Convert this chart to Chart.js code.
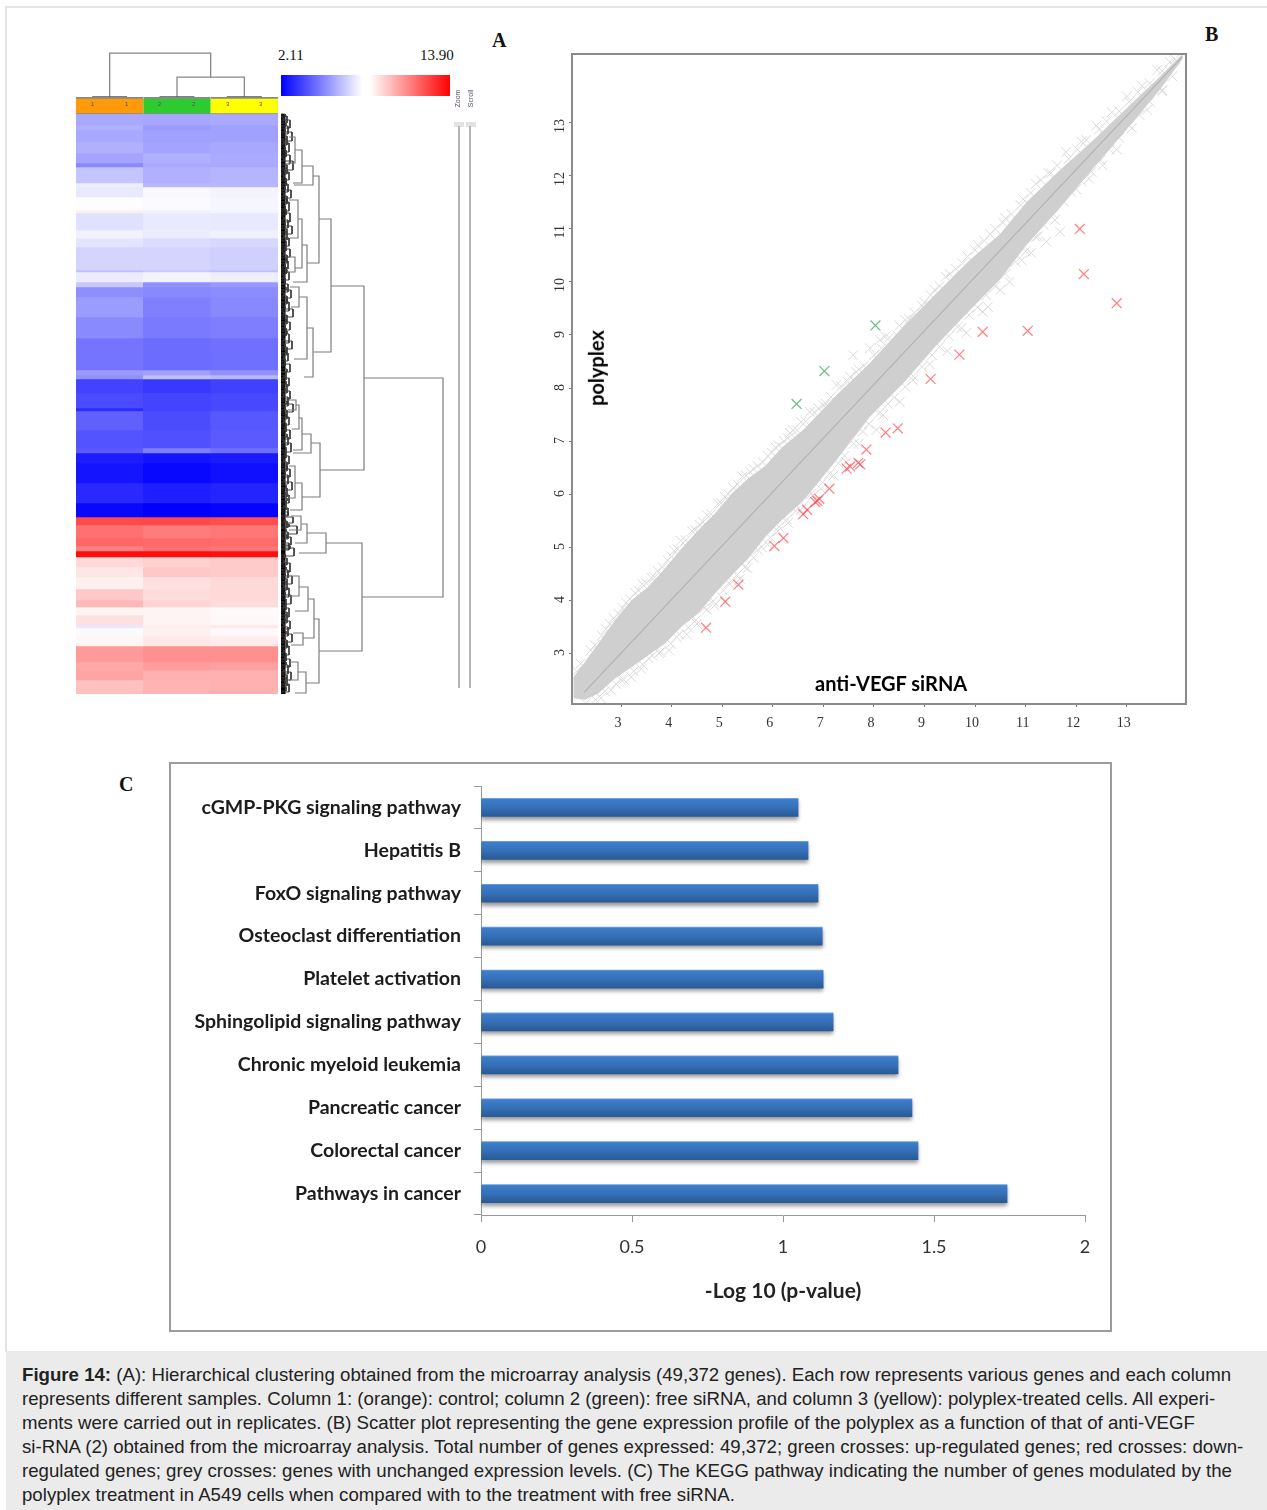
<!DOCTYPE html>
<html>
<head>
<meta charset="utf-8">
<script src="https://cdn.jsdelivr.net/npm/chart.js@4"></script>
<style>
  html, body { margin: 0; padding: 0; background: #fff; }
  body { position: relative; width: 1267px; height: 1510px; overflow: hidden; }
  canvas, .txt, .box { position: absolute; }
  .txt { white-space: nowrap; color: #111; }
  .serif { font-family: "Liberation Serif", serif; }
  .letter { font: bold 20px "Liberation Serif", serif; }
  .lbl { font: bold 20px Lato, sans-serif; color: #000; }
  .tiny { font: 6px "Liberation Sans", sans-serif; color: #5c4a66; }
  #heat { filter: blur(0.7px); }
  #caption { position: absolute; left: 6px; top: 1351px; width: 1261px; height: 159px; background: #ebebeb; }
  #caption div { position: absolute; left: 16px; white-space: nowrap; font: 18.65px "Liberation Sans", Arial, sans-serif; color: #222; }
</style>
</head>
<body>
<div class="box" style="left:5px;top:6px;width:1262px;height:2px;background:#e4e4e4"></div>
<div class="box" style="left:5px;top:6px;width:2px;height:1346px;background:#e4e4e4"></div>

<canvas id="colTree" width="202" height="48" style="left:76px;top:50px"></canvas>
<canvas id="heat" width="202" height="597" style="left:76px;top:97px"></canvas>
<canvas id="rowTree" width="165" height="582" style="left:281px;top:113px"></canvas>
<canvas id="colorBar" width="169" height="21" style="left:281px;top:75px"></canvas>
<canvas id="scatter" width="660" height="700" style="left:540px;top:40px"></canvas>
<div class="box" style="left:169px;top:762px;width:939px;height:566px;border:2px solid #9c9c9c"></div>
<canvas id="bars" width="941" height="568" style="left:170px;top:763px"></canvas>

<span class="txt serif" style="left:278px;top:47px;font-size:15px">2.11</span>
<span class="txt serif" style="left:420px;top:47px;font-size:15px">13.90</span>
<span class="txt letter" style="left:492px;top:29px">A</span>
<span class="txt letter" style="left:1205px;top:23px">B</span>
<span class="txt letter" style="left:119px;top:773px">C</span>
<span class="txt tiny" style="left:91px;top:101px">1</span>
<span class="txt tiny" style="left:125px;top:101px">1</span>
<span class="txt tiny" style="left:158px;top:101px">2</span>
<span class="txt tiny" style="left:192px;top:101px">2</span>
<span class="txt tiny" style="left:226px;top:101px">3</span>
<span class="txt tiny" style="left:259px;top:101px">3</span>
<span class="txt tiny" style="left:449px;top:95px;font-size:7px;transform:rotate(-90deg)">Zoom</span>
<span class="txt tiny" style="left:462px;top:95px;font-size:7px;transform:rotate(-90deg)">Scroll</span>
<div class="box" style="left:454px;top:122px;width:10px;height:5px;background:#e2e2e2"></div>
<div class="box" style="left:466px;top:122px;width:10px;height:5px;background:#e2e2e2"></div>
<div class="box" style="left:458px;top:126px;width:2px;height:562px;background:#b4b4b4"></div>
<div class="box" style="left:469px;top:126px;width:2px;height:562px;background:#b4b4b4"></div>

<span class="txt lbl" style="left:815px;top:671px">anti-VEGF siRNA</span>
<span class="txt lbl" style="left:558px;top:356px;transform:rotate(-90deg)">polyplex</span>

<div id="caption">
  <div style="top:13px"><b>Figure 14:</b> (A): Hierarchical clustering obtained from the microarray analysis (49,372 genes). Each row represents various genes and each column</div>
  <div style="top:37px">represents different samples. Column 1: (orange): control; column 2 (green): free siRNA, and column 3 (yellow): polyplex-treated cells. All experi-</div>
  <div style="top:61px">ments were carried out in replicates. (B) Scatter plot representing the gene expression profile of the polyplex as a function of that of anti-VEGF</div>
  <div style="top:85px">si-RNA (2) obtained from the microarray analysis. Total number of genes expressed: 49,372; green crosses: up-regulated genes; red crosses: down-</div>
  <div style="top:109px">regulated genes; grey crosses: genes with unchanged expression levels. (C) The KEGG pathway indicating the number of genes modulated by the</div>
  <div style="top:133px">polyplex treatment in A549 cells when compared with to the treatment with free siRNA.</div>
</div>

<script>
// ---- A: heat map (rows per band, then expression level of each band per sample)
const sampleLabels = ["1", "2", "3"];
const sampleColors = ["#ff9a0a", "#2ecb30", "#ffff00"];
const bandRows = [11,5,12,11,10,4,16,4,10,13,3,17,8,9,23,2,10,5,10,20,21,32,5,4,14,15,3,19,18,5,10,20,20,14,8,13,8,5,6,10,10,12,11,7,8,10,3,8,10,16,8,10,14];
const sample1 = [5.99,6.18,5.99,6.18,5.90,5.25,6.64,7.6,7.47,7.95,8.35,7.28,7.7,7.38,7.0,6.55,7.56,6.73,5.39,5.72,5.30,4.79,5.67,5.44,3.64,3.82,3.13,4.33,4.05,4.19,2.76,2.57,3.03,2.29,12.19,11.31,11.54,10.94,13.62,8.9,8.58,8.35,9.27,9.64,8.26,8.72,7.47,7.9,8.2,10.34,10.01,10.1,9.46];
const sample2 = [5.94,5.67,5.81,5.90,6.18,5.99,6.18,6.36,7.84,7.89,7.65,7.52,7.56,7.19,7.0,6.73,7.75,5.44,5.25,5.07,4.93,4.61,5.81,6.55,3.40,3.68,3.68,3.87,3.96,5.07,2.57,2.29,2.80,2.11,12.23,11.03,11.49,11.31,13.62,9.09,9.27,8.72,8.81,8.99,8.26,8.26,8.39,8.35,8.53,10.57,10.29,9.83,9.73];
const sample3 = [6.01,5.81,5.81,5.99,6.04,5.99,6.27,6.36,7.75,7.80,7.75,7.47,7.65,7.10,6.92,6.55,7.6,5.62,5.35,5.25,5.02,4.70,5.44,6.36,3.59,3.77,3.82,4.14,4.19,4.70,2.71,2.48,2.94,2.23,12.09,11.12,11.40,11.22,13.53,9.22,9.22,8.9,8.9,8.81,8.12,8.16,8.53,8.16,8.44,10.57,10.2,9.83,9.83];
const colorRange = [2.11, 13.90];
const colorMid = 8;

// sample tree: replicate position pairs, then joins
const colNodeLeft = [0.5, 2.5, 4.5, 3, 1];
const colNodeRight = [1.5, 3.5, 5.5, 5, 4];
const colNodeHeight = [1, 1, 1, 20, 43];
const colNodeLeftArm = [0, 0, 0, 1, 1];
const colNodeRightArm = [0, 0, 0, 1, 20];

// gene tree: main joins
const rowNodeHeight = [162,83,81,50,39,45,38,38,32,32,21,14,26,21,17,14,26,18,30,21,18,15,21,14,26,20,33,27,22,25,18,17];
const rowNodeTop = [264,172,429,105,329,419,505,62,214,52,36,23,131,105,86,143,183,173,320,304,291,286,369,352,410,402,485,473,519,558,462,548];
const rowNodeBottom = [483,356,537,238,383,439,569,149,263,71,69,49,168,154,124,158,245,193,339,336,315,296,396,384,429,416,524,497,531,579,482,566];
const rowNodeArmTop = [83,50,45,38,30,26,33,32,26,21,14,8,21,17,8,7,18,9,21,18,15,8,14,8,20,10,27,18,12,17,10,9];
const rowNodeArmBottom = [81,39,38,32,21,18,25,26,23,13,12,7,12,14,9,6,13,10,12,12,11,7,9,8,14,8,22,14,10,14,8,8];
// gene tree: small joins next to the leaves
const twigTop = [2,6,12,18,25,29,36,41,47,54,58,64,70,76,82,88,95,99,106,112,118,124,130,135,141,147,153,158,164,170,176,182,188,195,201,208,214,220,227,233,239,245,250,258,264,270,277,283,290,296,303,309,316,323,329,336,342,348,355,361,368,374,381,387,394,403,407,412,418,423,429,434,444,449,456,462,468,474,481,488,494,501,507,513,520,526,532,539,545,551,558,564,570,
  0,4,9,15,22,27,33,39,44,51,56,61,67,73,79,85,92,97,103,109,115,121,127,133,138,144,150,156,161,167,173,179,185,192,198,205,211,217,224,230,236,242,248,255,261,267,274,280,287,293,300,306,313,320,326,333,339,345,352,358,365,371,378,384,391,398,405,410,415,421,426,432,440,446,453,459,465,471,478,485,491,498,504,510,517,523,529,536,542,548,555,561,567,573];
const twigBottom = [9,14,20,27,31,38,43,50,56,60,66,72,78,84,90,97,101,108,114,120,126,132,137,143,149,155,160,166,170,178,184,190,197,203,210,216,222,229,235,241,247,252,258,266,272,279,285,292,298,305,311,318,325,331,338,344,350,357,363,370,376,383,389,396,402,409,414,420,425,431,436,442,451,458,464,470,476,483,490,496,503,509,515,522,528,534,541,547,553,560,566,572,578,
  3,7,12,18,25,30,36,42,47,54,59,64,70,76,82,88,95,100,106,112,118,124,130,136,141,147,153,159,164,170,176,182,188,195,201,208,214,220,227,233,239,245,251,258,264,270,277,283,290,296,303,309,316,323,329,336,342,348,355,361,368,374,381,387,394,401,408,413,418,424,429,435,443,449,456,462,468,474,481,488,494,501,507,513,520,526,532,539,545,551,558,564,570,577];
const twigHeight = [6,9,7,11,6,8,5,9,12,6,8,5,7,10,6,8,5,9,7,11,6,8,5,9,6,7,5,8,4,7,10,6,8,12,6,9,5,8,11,6,7,4,9,5,8,6,9,7,12,6,8,5,9,7,10,5,8,6,9,7,11,6,8,5,7,12,6,16,7,10,8,13,6,9,7,11,6,8,10,5,8,6,9,7,11,6,8,5,9,7,10,6,8,
  4,3,5,4,6,3,4,5,3,6,4,3,5,4,3,6,4,5,3,4,6,3,5,4,3,5,4,6,3,4,5,3,6,4,3,5,4,6,3,4,5,3,4,6,3,5,4,3,6,4,5,3,4,6,3,5,4,3,6,4,3,5,4,6,3,7,4,8,5,6,4,9,4,3,5,4,6,3,4,5,3,6,4,3,5,4,6,3,4,5,3,6,4,5];

// ---- B: scatter
const xTicks = [3,4,5,6,7,8,9,10,11,12,13];
const yTicks = [3,4,5,6,7,8,9,10,11,12,13];
const cloudX = [2.06,2.29,2.55,2.88,3.21,3.54,3.87,4.20,4.53,4.86,5.19,5.52,5.85,6.18,6.6,7.26,7.92,8.58,9.24,9.9,10.49,11.02,11.68,12.34,13.0,13.65,14.1];
const cloudUpper = [2.55,2.84,3.18,3.62,4.0,4.25,4.60,4.98,5.32,5.64,6.01,6.3,6.53,6.88,7.21,7.87,8.47,9.16,9.79,10.42,10.9,11.51,12.11,12.68,13.28,13.87,14.3];
const cloudLower = [2.15,2.12,2.24,2.52,2.74,2.96,3.18,3.50,3.75,4.13,4.47,4.79,5.19,5.51,5.87,6.64,7.46,8.09,8.81,9.47,10.04,10.7,11.4,12.15,12.88,13.62,14.2];
const diagonalX = [2.27, 14.1];
const diagonalY = [2.26, 14.25];
const greyX = [2.12,2.4,2.62,2.78,2.95,3.1,3.28,3.42,3.6,3.72,3.92,4.05,4.18,4.4,4.55,4.7,4.92,5.05,5.22,5.4,5.55,5.7,5.9,6.05,6.22,6.34,6.4,6.56,6.73,6.83,7.05,7.26,7.53,7.59,7.7,7.92,8.12,8.22,8.45,8.7,8.95,9.2,9.5,9.75,10.05,10.3,10.6,10.9,11.2,11.5,11.8,12.1,12.4,12.7,13.0,13.3,13.6,13.85,
  2.3,2.6,2.8,3.0,3.2,3.4,3.55,3.75,3.95,4.1,4.3,4.5,4.65,4.85,5.0,5.2,5.35,5.5,5.7,5.9,6.1,6.3,6.55,6.75,6.95,7.2,7.45,7.7,8.05,8.18,8.51,8.77,9.1,9.45,9.73,9.83,10.15,10.25,10.5,10.68,10.92,11.11,11.24,11.41,11.58,11.68,12.0,12.25,12.52,12.8,13.1,13.4,13.7,
  2.2,2.48,2.7,2.85,3.03,3.17,3.35,3.5,3.66,3.82,4.0,4.12,4.28,4.47,4.62,4.78,4.98,5.12,5.3,5.47,5.62,5.8,5.98,6.12,6.3,6.48,6.65,6.9,7.0,7.15,7.35,7.48,7.65,7.8,8.0,8.15,8.3,8.5,8.62,8.8,9.0,9.12,9.3,9.42,9.62,9.85,10.0,10.18,10.4,10.55,10.72,10.95,11.1,11.3,11.45,11.62,11.85,12.02,12.2,12.45,12.6,12.85,13.05,13.22,13.45,13.7,13.95,
  2.5,2.68,2.9,3.05,3.25,3.43,3.62,3.78,3.98,4.15,4.33,4.48,4.7,4.82,5.02,5.13,5.3,5.45,5.62,5.78,5.95,6.12,6.28,6.45,6.62,6.8,6.98,7.12,7.3,7.42,7.6,7.78,7.9,8.1,8.28,8.4,8.62,8.78,8.95,9.15,9.3,9.48,9.65,9.88,10.05,10.22,10.4,10.6,10.8,11.0,11.2,11.35,11.55,11.75,11.9,12.1,12.3,12.48,12.65,12.85,13.05,13.25,13.45,13.7,13.9];
const greyY = [2.66,3.05,3.33,3.55,3.74,3.95,4.13,4.3,4.42,4.55,4.75,4.93,5.12,5.3,5.42,5.6,5.82,5.95,6.12,6.33,6.42,6.53,6.72,6.88,7.0,7.15,7.2,7.36,7.55,7.53,7.7,8.06,8.21,8.62,8.35,8.75,8.91,8.97,9.0,9.3,9.55,9.85,10.15,10.35,10.7,10.9,11.2,11.45,11.85,12.05,12.45,12.65,12.95,13.2,13.5,13.7,14.0,14.15,
  2.05,2.15,2.3,2.5,2.55,2.7,2.9,3.0,3.05,3.3,3.35,3.55,3.85,3.9,4.05,4.35,4.4,4.6,4.95,5.05,5.3,5.45,5.7,6.0,6.1,6.35,6.6,6.95,7.21,7.49,7.74,8.15,8.45,8.7,9.13,9.04,9.44,9.53,9.85,10.0,10.41,10.55,10.86,10.76,11.17,10.95,11.75,11.95,12.2,12.5,12.9,13.25,13.6,
  2.8,3.15,3.45,3.66,3.85,4.02,4.18,4.32,4.43,4.62,4.82,4.96,5.13,5.32,5.47,5.62,5.83,6.0,6.18,6.35,6.47,6.6,6.78,6.92,7.05,7.2,7.37,7.62,7.68,7.83,8.03,8.12,8.3,8.42,8.62,8.75,8.95,9.18,9.28,9.42,9.62,9.75,9.92,10.1,10.25,10.48,10.6,10.78,11.0,11.12,11.28,11.56,11.68,11.92,12.05,12.2,12.32,12.5,12.68,12.88,13.03,13.22,13.4,13.58,13.75,13.98,14.2,
  2.12,2.28,2.42,2.5,2.66,2.78,2.95,3.02,3.18,3.35,3.48,3.62,3.82,3.98,4.18,4.32,4.48,4.62,4.8,5.0,5.18,5.38,5.52,5.68,5.78,5.98,6.22,6.38,6.58,6.72,6.95,7.18,7.32,7.52,7.7,7.82,8.02,8.22,8.4,8.62,8.78,8.98,9.15,9.38,9.52,9.75,9.92,10.15,10.38,10.58,10.85,11.08,11.28,11.52,11.7,11.9,12.08,12.3,12.5,12.72,12.95,13.15,13.4,13.62,13.88];
const redX = [4.68,5.06,5.32,6.03,6.21,6.60,6.68,6.84,6.88,6.92,7.12,7.46,7.53,7.69,7.73,7.85,8.23,8.47,9.12,9.69,10.15,11.04,12.07,12.15,12.80];
const redY = [3.48,3.97,4.29,5.02,5.17,5.62,5.70,5.85,5.87,5.91,6.10,6.48,6.52,6.59,6.56,6.84,7.16,7.24,8.17,8.63,9.06,9.08,11.0,10.15,9.60];
const greenX = [6.47,7.02,8.03];
const greenY = [7.70,8.32,9.18];

// ---- C: KEGG bars
const pathways = ["cGMP-PKG signaling pathway","Hepatitis B","FoxO signaling pathway","Osteoclast differentiation","Platelet activation","Sphingolipid signaling pathway","Chronic myeloid leukemia","Pancreatic cancer","Colorectal cancer","Pathways in cancer"];
const logP = [1.05,1.083,1.116,1.13,1.133,1.166,1.381,1.427,1.447,1.742];
const pTicks = [0,0.5,1,1.5,2];

Chart.defaults.animation = false;
Chart.defaults.responsive = false;
Chart.defaults.plugins.legend.display = false;
Chart.defaults.plugins.tooltip.enabled = false;

function levelColor(v) {
  let r = 255, g = 255, b = 255;
  if (v < colorMid) {
    r = g = Math.round(255 * (v - colorRange[0]) / (colorMid - colorRange[0]));
  } else {
    g = b = Math.round(255 * (colorRange[1] - v) / (colorRange[1] - colorMid));
  }
  return `rgb(${r},${g},${b})`;
}

function xy(xs, ys) {
  return xs.map((x, i) => ({ x: x, y: ys[i] }));
}

// heat map: one floating bar per band and sample
let rowStart = 0;
const heatSets = [{
  data: sampleLabels.map(() => [-17, 0]),
  backgroundColor: sampleColors,
  borderColor: "#8a8a8a",
  borderWidth: { top: 2, bottom: 1, left: 0, right: 0 },
  borderSkipped: false,
}];
bandRows.forEach((rows, i) => {
  const span = [rowStart, rowStart + rows];
  heatSets.push({
    data: [span, span, span],
    backgroundColor: [levelColor(sample1[i]), levelColor(sample2[i]), levelColor(sample3[i])],
  });
  rowStart += rows;
});
new Chart(document.getElementById("heat"), {
  type: "bar",
  data: { labels: sampleLabels, datasets: heatSets },
  options: {
    grouped: false,
    barPercentage: 1,
    categoryPercentage: 1,
    scales: {
      x: { display: false },
      y: { display: false, reverse: true, min: -17, max: 580 },
    },
  },
});

function treeLine(points, color, width) {
  return { type: "scatter", showLine: true, data: points, borderColor: color, borderWidth: width, pointRadius: 0, clip: false };
}

const colSets = colNodeHeight.map((h, i) => treeLine([
  { x: colNodeLeft[i], y: colNodeLeftArm[i] },
  { x: colNodeLeft[i], y: h },
  { x: colNodeRight[i], y: h },
  { x: colNodeRight[i], y: colNodeRightArm[i] },
], i < 3 ? "#555" : "#888", 1.3));
new Chart(document.getElementById("colTree"), {
  type: "scatter",
  data: { datasets: colSets },
  options: {
    scales: {
      x: { display: false, min: 0, max: 6 },
      y: { display: false, min: 0, max: 46 },
    },
  },
});

const rowSets = rowNodeHeight.map((h, i) => treeLine([
  { x: rowNodeArmTop[i], y: rowNodeTop[i] },
  { x: h, y: rowNodeTop[i] },
  { x: h, y: rowNodeBottom[i] },
  { x: rowNodeArmBottom[i], y: rowNodeBottom[i] },
], "#7c7c7c", 1.2));
twigHeight.forEach((h, i) => {
  rowSets.push(treeLine([
    { x: 0, y: twigTop[i] },
    { x: h, y: twigTop[i] },
    { x: h, y: twigBottom[i] },
    { x: 0, y: twigBottom[i] },
  ], "#333", 0.9));
});
rowSets.push(treeLine([{ x: 2, y: 0 }, { x: 2, y: 580 }], "#000", 5));
new Chart(document.getElementById("rowTree"), {
  type: "scatter",
  data: { datasets: rowSets },
  options: {
    layout: { padding: { top: 1, bottom: 1 } },
    scales: {
      x: { display: false, min: 0, max: 165 },
      y: { display: false, reverse: true, min: 0, max: 580 },
    },
  },
});

new Chart(document.getElementById("colorBar"), {
  type: "bar",
  data: {
    labels: ["level"],
    datasets: [{
      data: [colorRange],
      borderRadius: 2,
      borderSkipped: false,
      backgroundColor(c) {
        const area = c.chart.chartArea;
        if (!area) return "#fff";
        const g = c.chart.ctx.createLinearGradient(area.left, 0, area.right, 0);
        g.addColorStop(0, "#0000ff");
        g.addColorStop(0.48, "#ffffff");
        g.addColorStop(0.525, "#ffffff");
        g.addColorStop(1, "#ff0000");
        return g;
      },
    }],
  },
  options: {
    indexAxis: "y",
    barPercentage: 1,
    categoryPercentage: 1,
    scales: {
      x: { display: false, min: colorRange[0], max: colorRange[1] },
      y: { display: false },
    },
  },
});

// scatter
const GREY_SET = 3;
const plotBox = {
  id: "plotBox",
  // solid part of the cloud goes on top of the grey crosses, so only their tips stick out
  afterDatasetDraw(chart, args) {
    if (args.index !== GREY_SET) return;
    const c = chart.ctx, sx = chart.scales.x, sy = chart.scales.y;
    c.save();
    c.fillStyle = "#cfcfcf";
    c.beginPath();
    cloudX.forEach((x, i) => c.lineTo(sx.getPixelForValue(x), sy.getPixelForValue(cloudUpper[i])));
    for (let i = cloudX.length - 1; i >= 0; i--) {
      c.lineTo(sx.getPixelForValue(cloudX[i]), sy.getPixelForValue(cloudLower[i]));
    }
    c.closePath();
    c.fill();
    c.restore();
  },
  afterDraw(chart) {
    const a = chart.chartArea, c = chart.ctx;
    c.save();
    c.strokeStyle = "#8a8a8a";
    c.lineWidth = 2;
    c.strokeRect(a.left, a.top, a.right - a.left, a.bottom - a.top);
    c.restore();
  },
};
new Chart(document.getElementById("scatter"), {
  type: "scatter",
  data: {
    datasets: [
      { data: xy(redX, redY), pointStyle: "crossRot", pointRadius: 7, borderColor: "rgba(255,70,80,0.7)", pointBorderWidth: 1.2 },
      { data: xy(greenX, greenY), pointStyle: "crossRot", pointRadius: 7, borderColor: "rgba(60,165,85,0.75)", pointBorderWidth: 1.2 },
      { data: xy(diagonalX, diagonalY), showLine: true, pointRadius: 0, borderColor: "#b2b2b2", borderWidth: 1.2 },
      { data: xy(greyX, greyY), pointStyle: "crossRot", pointRadius: 7, borderColor: "#dadada", pointBorderWidth: 1 },
    ],
  },
  options: {
    layout: { padding: { top: 14, right: 14 } },
    scales: {
      x: {
        min: 2.03, max: 14.17,
        afterBuildTicks(s) { s.ticks = xTicks.map((v) => ({ value: v })); },
        afterFit(s) { s.height = 36; s.paddingLeft = 0; s.paddingRight = 0; },
        grid: { drawOnChartArea: false, color: "#777", tickLength: 3 },
        border: { display: false },
        ticks: { font: { family: "Liberation Serif", size: 14 }, color: "#333", padding: 8, labelOffset: -3, maxRotation: 0, autoSkip: false },
      },
      y: {
        min: 2.04, max: 14.30,
        afterBuildTicks(s) { s.ticks = yTicks.map((v) => ({ value: v })); },
        afterFit(s) { s.width = 32; s.paddingTop = 0; s.paddingBottom = 0; },
        grid: { drawOnChartArea: false, color: "#777", tickLength: 3 },
        border: { display: false },
        ticks: { font: { family: "Liberation Serif", size: 14 }, color: "#333", padding: 9, labelOffset: -4, minRotation: 90, maxRotation: 90, autoSkip: false },
      },
    },
  },
  plugins: [plotBox],
});

// KEGG bars
const barShadow = {
  id: "barShadow",
  beforeDatasetDraw(chart) {
    const c = chart.ctx;
    c.save();
    c.shadowColor = "rgba(0,0,0,0.4)";
    c.shadowBlur = 4;
    c.shadowOffsetY = 3;
  },
  afterDatasetDraw(chart) {
    chart.ctx.restore();
  },
};
new Chart(document.getElementById("bars"), {
  type: "bar",
  data: {
    labels: pathways,
    datasets: [{
      data: logP,
      barThickness: 18,
      backgroundColor(c) {
        const mid = c.chart.scales.y.getPixelForValue(c.dataIndex);
        if (!isFinite(mid)) return "#3570b8";
        const g = c.chart.ctx.createLinearGradient(0, mid - 9, 0, mid + 9);
        g.addColorStop(0, "#6ea2dc");
        g.addColorStop(0.06, "#3d7dcb");
        g.addColorStop(0.5, "#3570b8");
        g.addColorStop(1, "#295a94");
        return g;
      },
    }],
  },
  options: {
    indexAxis: "y",
    layout: { padding: { top: 23, right: 26 } },
    scales: {
      x: {
        min: 0, max: 2,
        afterBuildTicks(s) { s.ticks = pTicks.map((v) => ({ value: v })); },
        afterFit(s) { s.height = 116; s.paddingLeft = 0; s.paddingRight = 0; },
        grid: { drawOnChartArea: false, color: "#999", tickLength: 7 },
        border: { color: "#999", width: 1 },
        ticks: { font: { family: "Lato", size: 18 }, color: "#333", padding: 14, maxRotation: 0, callback: (v) => String(v) },
        title: { display: true, text: "-Log 10 (p-value)", font: { family: "Lato", size: 21, weight: "bold" }, color: "#222", padding: { bottom: 27 } },
      },
      y: {
        afterFit(s) { s.width = 311; s.paddingTop = 0; s.paddingBottom = 0; },
        grid: { drawOnChartArea: false, color: "#999", tickLength: 7 },
        border: { color: "#999", width: 1 },
        ticks: { font: { family: "Lato", size: 19.5, weight: "bold" }, color: "#1c1c1c", padding: 13, autoSkip: false },
      },
    },
  },
  plugins: [barShadow],
});
</script>
</body>
</html>
